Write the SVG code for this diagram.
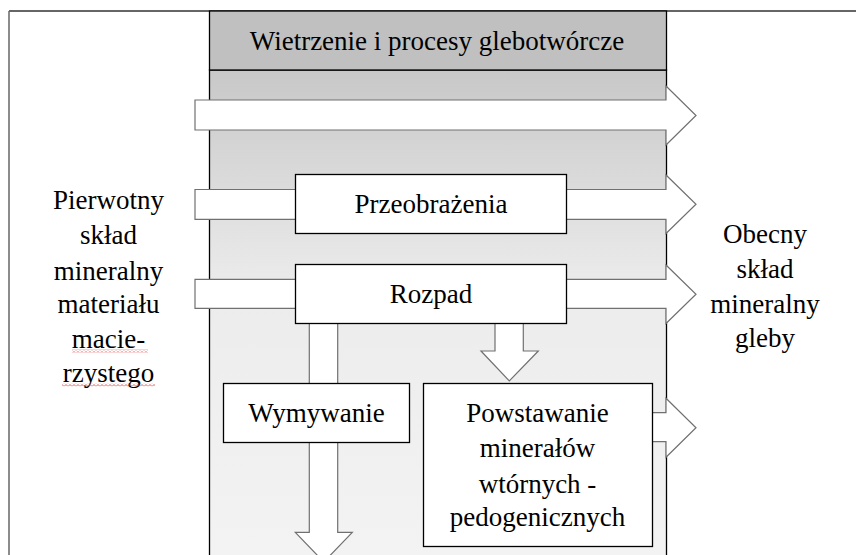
<svg xmlns="http://www.w3.org/2000/svg" width="856" height="555" viewBox="0 0 856 555">
<defs>
<style>
.t{font-family:"Liberation Serif","Times New Roman",Tinos,"DejaVu Serif","Noto Serif",serif;font-size:27px;fill:#000;text-anchor:middle}
.box{fill:#fff;stroke:#000;stroke-width:1.3}
.arr{fill:#fff;stroke:#707070;stroke-width:1.2;stroke-linejoin:miter}
</style>
<linearGradient id="body" x1="0" y1="70" x2="0" y2="555" gradientUnits="userSpaceOnUse">
<stop offset="0" stop-color="#c8c8c8"/>
<stop offset="0.45" stop-color="#ececec"/>
<stop offset="1" stop-color="#f3f3f3"/>
</linearGradient>
<pattern id="wave" x="0" y="0" width="4" height="3" patternUnits="userSpaceOnUse">
<path d="M0 2.5 L2 0.5 L4 2.5" fill="none" stroke="#e03030" stroke-width="0.8"/>
</pattern>
</defs>
<rect width="856" height="555" fill="#fff"/>
<g id="frame" fill="none">
<line x1="9" y1="11" x2="856" y2="11" stroke="#333" stroke-width="1.5"/>
<line x1="9" y1="11" x2="9" y2="555" stroke="#666" stroke-width="1.5"/>
</g>
<g id="column">
<rect x="209.5" y="70" width="457" height="490" fill="url(#body)" stroke="#000" stroke-width="1.3"/>
<rect x="209.5" y="11" width="457" height="59" fill="#c0c0c0" stroke="#000" stroke-width="1.3"/>
<text class="t" font-family="Liberation Serif, serif" x="437" y="50">Wietrzenie i procesy glebotwórcze</text>
</g>
<g id="connectors">
<path class="arr" d="M195 100 H666 V86 L696 115.5 L666 145 V130 H195 Z"/>
<path class="arr" d="M195 189.5 H666 V175 L696 204.3 L666 233.5 V219.3 H195 Z"/>
<path class="arr" d="M195 279.3 H666 V265 L696 294.3 L666 323.5 V308.3 H195 Z"/>
<path class="arr" d="M600 412.7 H666 V398.3 L696 427.7 L666 457.3 V441.7 H600 Z"/>
<path class="arr" d="M495 320 V351 H481 L509.3 381 L538.3 351 H523.3 V320 Z"/>
<path class="arr" d="M309.3 320 V532.3 H295.3 L323.8 562 L352.3 532.3 H337.7 V320 Z"/>
</g>
<g id="przeobrazenia">
<rect class="box" x="295.5" y="174.5" width="271" height="59"/>
<text class="t" x="431" y="213.3">Przeobrażenia</text>
</g>
<g id="rozpad">
<rect class="box" x="295.5" y="264.5" width="271" height="59"/>
<text class="t" x="431" y="302.7">Rozpad</text>
</g>
<g id="wymywanie">
<rect class="box" x="223.5" y="383.5" width="186" height="59"/>
<text class="t" x="316.5" y="421.7">Wymywanie</text>
</g>
<g id="powstawanie">
<rect class="box" x="423.5" y="383.5" width="229" height="163"/>
<text class="t" x="537.5" y="421.7">Powstawanie</text>
<text class="t" x="537.5" y="457.3">minerałów</text>
<text class="t" x="537.5" y="492.7">wtórnych -</text>
<text class="t" x="537.5" y="526">pedogenicznych</text>
</g>
<g id="pierwotny">
<text class="t" x="108.5" y="209.3">Pierwotny</text>
<text class="t" x="108.5" y="244">skład</text>
<text class="t" x="108.5" y="280">mineralny</text>
<text class="t" x="108.5" y="313.3">materiału</text>
<text class="t" x="108.5" y="348.3">macie-</text>
<text class="t" x="108.5" y="381.7">rzystego</text>
<rect x="72" y="349.5" width="76" height="3" fill="url(#wave)"/>
<rect x="62" y="383.5" width="93" height="3" fill="url(#wave)"/>
</g>
<g id="obecny">
<text class="t" x="765" y="243.3">Obecny</text>
<text class="t" x="765" y="278.3">skład</text>
<text class="t" x="765" y="313.3">mineralny</text>
<text class="t" x="765" y="346.7">gleby</text>
</g>
</svg>
